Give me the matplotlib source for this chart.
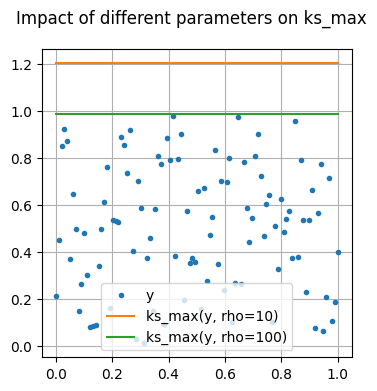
import matplotlib
matplotlib.use('Agg')
import matplotlib.pyplot as plt
import numpy as np

y = [0.213, 0.450, 0.850, 0.923, 0.872, 0.370, 0.646, 0.497, 0.149, 0.263,
     0.481, 0.301, 0.080, 0.085, 0.088, 0.339, 0.497, 0.611, 0.760, 0.162,
     0.536, 0.530, 0.526, 0.892, 0.854, 0.735, 0.918, 0.404, 0.029, 0.701,
     0.586, 0.011, 0.373, 0.458, 0.150, 0.582, 0.807, 0.773, 0.092, 0.884,
     0.790, 0.980, 0.382, 0.796, 0.901, 0.196, 0.573, 0.352, 0.373, 0.356,
     0.660, 0.159, 0.671, 0.278, 0.471, 0.548, 0.833, 0.348, 0.701, 0.238,
     0.697, 0.799, 0.103, 0.267, 0.976, 0.263, 0.782, 0.586, 0.441, 0.543,
     0.807, 0.901, 0.722, 0.467, 0.603, 0.641, 0.101, 0.509, 0.326, 0.624,
     0.484, 0.539, 0.573, 0.373, 0.957, 0.377, 0.794, 0.535, 0.229, 0.535,
     0.663, 0.075, 0.565, 0.773, 0.063, 0.207, 0.714, 0.105, 0.186, 0.399]
x = np.linspace(0, 1, len(y))

ks_rho10 = 1.204
ks_rho100 = 0.990

plt.figure(figsize=(4, 4))
plt.plot(x, y, '.', label='y')
plt.plot(x, [ks_rho10] * len(x), label='ks_max(y, rho=10)')
plt.plot(x, [ks_rho100] * len(x), label='ks_max(y, rho=100)')
plt.suptitle('Impact of different parameters on ks_max')
plt.legend(loc='lower center')
plt.grid(True)
plt.savefig('out.png', bbox_inches='tight')
